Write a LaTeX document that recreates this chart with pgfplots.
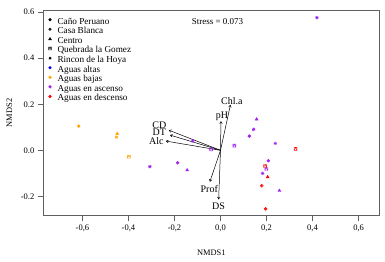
\documentclass[border=0pt]{standalone}
\usepackage{fontspec}
\setmainfont{Liberation Serif}
\usepackage{pgfplots}
\pgfplotsset{compat=1.18}
\usetikzlibrary{arrows.meta}
\definecolor{cpurple}{HTML}{A020F0}
\definecolor{corange}{HTML}{FFA500}
\definecolor{cred}{HTML}{FF0000}
\definecolor{cblue}{HTML}{0000FF}
\definecolor{axgray}{HTML}{606060}
\pgfdeclareplotmark{sqtri}{%
  \pgfpathrectangle{\pgfpoint{-\pgfplotmarksize}{-\pgfplotmarksize}}{\pgfpoint{2\pgfplotmarksize}{2\pgfplotmarksize}}%
  \pgfpathmoveto{\pgfpoint{-\pgfplotmarksize}{-\pgfplotmarksize}}%
  \pgfpathlineto{\pgfpoint{0pt}{\pgfplotmarksize}}%
  \pgfpathlineto{\pgfpoint{\pgfplotmarksize}{-\pgfplotmarksize}}%
  \pgfusepathqstroke}
\pgfdeclareplotmark{rstar}{%
  \pgfpathmoveto{\pgfpoint{-\pgfplotmarksize}{0pt}}\pgfpathlineto{\pgfpoint{\pgfplotmarksize}{0pt}}%
  \pgfpathmoveto{\pgfpoint{0pt}{-\pgfplotmarksize}}\pgfpathlineto{\pgfpoint{0pt}{\pgfplotmarksize}}%
  \pgfpathmoveto{\pgfpoint{-0.75\pgfplotmarksize}{-0.75\pgfplotmarksize}}\pgfpathlineto{\pgfpoint{0.75\pgfplotmarksize}{0.75\pgfplotmarksize}}%
  \pgfpathmoveto{\pgfpoint{-0.75\pgfplotmarksize}{0.75\pgfplotmarksize}}\pgfpathlineto{\pgfpoint{0.75\pgfplotmarksize}{-0.75\pgfplotmarksize}}%
  \pgfusepathqstroke}
\begin{document}
\begin{tikzpicture}
\begin{axis}[
  scale only axis, width=336pt, height=205.4pt,
  xmin=-0.77, xmax=0.69, ymin=-0.284, ymax=0.608,
  axis line style={axgray, line width=0.6pt},
  xtick={-0.6,-0.4,-0.2,0,0.2,0.4,0.6},
  ytick={-0.2,0,0.2,0.4,0.6},
  xtick pos=left, ytick pos=left, tick align=outside, major tick length=5.5pt,
  tick style={axgray, line width=0.6pt},
  /pgf/number format/assume math mode=true,
  xticklabel style={font=\fontsize{8.5}{10}\selectfont, /pgf/number format/.cd, fixed, fixed zerofill, precision=1, use comma},
  yticklabel style={font=\fontsize{8.5}{10}\selectfont, /pgf/number format/.cd, fixed, fixed zerofill, precision=1},
  xlabel={NMDS1}, ylabel={NMDS2},
  xlabel style={font=\fontsize{8.4}{10}\selectfont, at={(axis description cs:0.5,-0.180)}, anchor=center},
  ylabel style={font=\fontsize{8.4}{10}\selectfont, at={(axis description cs:-0.101,0.5)}, anchor=center},
  clip=false,
  legend style={at={(axis description cs:0.015,0.962)}, anchor=north west, draw=none, fill=none,
    inner sep=0pt, font=\fontsize{9.2}{10}\selectfont, row sep=2.35pt, column sep=6pt,
    nodes={inner sep=0pt, text height=5.5pt, text depth=1.5pt}},
  legend cell align=left,
  legend image code/.code={\draw[#1] plot coordinates {(0pt,2.3pt)};},
  mark size=1.7pt,
]
\addlegendimage{only marks, black, mark=*, mark size=1.4pt}
\addlegendentry{Caño Peruano}
\addlegendimage{only marks, black, mark=oplus, mark size=1.4pt}
\addlegendentry{Casa Blanca}
\addlegendimage{only marks, black, mark=triangle*, mark size=1.6pt}
\addlegendentry{Centro}
\addlegendimage{only marks, black, mark=sqtri, mark size=1.4pt}
\addlegendentry{Quebrada la Gomez}
\addlegendimage{only marks, black, mark=rstar, mark size=1.5pt}
\addlegendentry{Rincon de la Hoya}
\addlegendimage{only marks, cblue, mark=*, mark size=1.4pt}
\addlegendentry{Aguas altas}
\addlegendimage{only marks, corange, mark=*, mark size=1.4pt}
\addlegendentry{Aguas bajas}
\addlegendimage{only marks, cpurple, mark=*, mark size=1.4pt}
\addlegendentry{Aguas en ascenso}
\addlegendimage{only marks, cred, mark=*, mark size=1.4pt}
\addlegendentry{Aguas en descenso}

% Aguas bajas (orange)
\addplot[forget plot, only marks, corange, mark=*, mark size=1.5pt] coordinates {(-0.616,0.105)};
\addplot[forget plot, only marks, corange, mark=triangle*] coordinates {(-0.449,0.072)};
\addplot[forget plot, only marks, corange, mark=rstar] coordinates {(-0.452,0.057)};
\addplot[forget plot, only marks, corange, mark=sqtri, mark size=1.5pt] coordinates {(-0.398,-0.028)};
% Aguas en ascenso (purple)
\addplot[forget plot, only marks, cpurple, mark=*, mark size=1.5pt] coordinates {(-0.186,-0.054) (0.125,0.062) (0.208,-0.045)};
\addplot[forget plot, only marks, cpurple, mark=triangle*] coordinates {(-0.145,-0.086) (0.157,0.135) (0.256,-0.175)};
\addplot[forget plot, only marks, cpurple, mark=sqtri, mark size=1.5pt] coordinates {(-0.041,0.004) (0.060,0.020) (0.199,-0.081)};
\addplot[forget plot, only marks, cpurple, mark=rstar] coordinates {(-0.307,-0.071) (-0.121,0.041) (0.144,0.091) (0.238,0.030) (0.183,-0.100) (0.419,0.576)};
% Aguas en descenso (red)
\addplot[forget plot, only marks, cred, mark=sqtri, mark size=1.5pt] coordinates {(0.326,0.006) (0.194,-0.068)};
\addplot[forget plot, only marks, cred, mark=triangle*] coordinates {(0.205,-0.116)};
\addplot[forget plot, only marks, cred, mark=oplus, mark size=1.6pt] coordinates {(0.179,-0.154) (0.196,-0.254)};

% environmental vectors
\pgfplotsset{vec/.style={forget plot, black, line width=0.5pt, -{To[length=2.5pt,width=3pt]}}}
\addplot[vec] coordinates {(0,0) (0.043,0.197)};
\addplot[vec] coordinates {(0,0) (0.002,0.126)};
\addplot[vec] coordinates {(0,0) (-0.224,0.087)};
\addplot[vec] coordinates {(0,0) (-0.219,0.066)};
\addplot[vec] coordinates {(0,0) (-0.237,0.040)};
\addplot[vec] coordinates {(0,0) (-0.046,-0.136)};
\addplot[vec] coordinates {(0,0) (-0.008,-0.213)};

\tikzset{vl/.style={font=\fontsize{10}{12}\selectfont, inner sep=0pt}}
\node[vl] at (axis cs:0.049,0.215) {Chl.a};
\node[vl] at (axis cs:0.0065,0.146) {pH};
\node[vl] at (axis cs:-0.266,0.1095) {CD};
\node[vl] at (axis cs:-0.266,0.0775) {DT};
\node[vl] at (axis cs:-0.279,0.039) {Alc};
\node[vl] at (axis cs:-0.049,-0.167) {Prof};
\node[vl] at (axis cs:-0.009,-0.241) {DS};
\node[font=\fontsize{9}{11}\selectfont, inner sep=0pt] at (axis cs:-0.013,0.561) {Stress = 0.073};
\end{axis}
\pgfresetboundingbox
\path[use as bounding box] ([xshift=-43.3pt,yshift=-46.3pt]current axis.south west) rectangle ([xshift=5.7pt,yshift=10.3pt]current axis.north east);
\end{tikzpicture}
\end{document}
